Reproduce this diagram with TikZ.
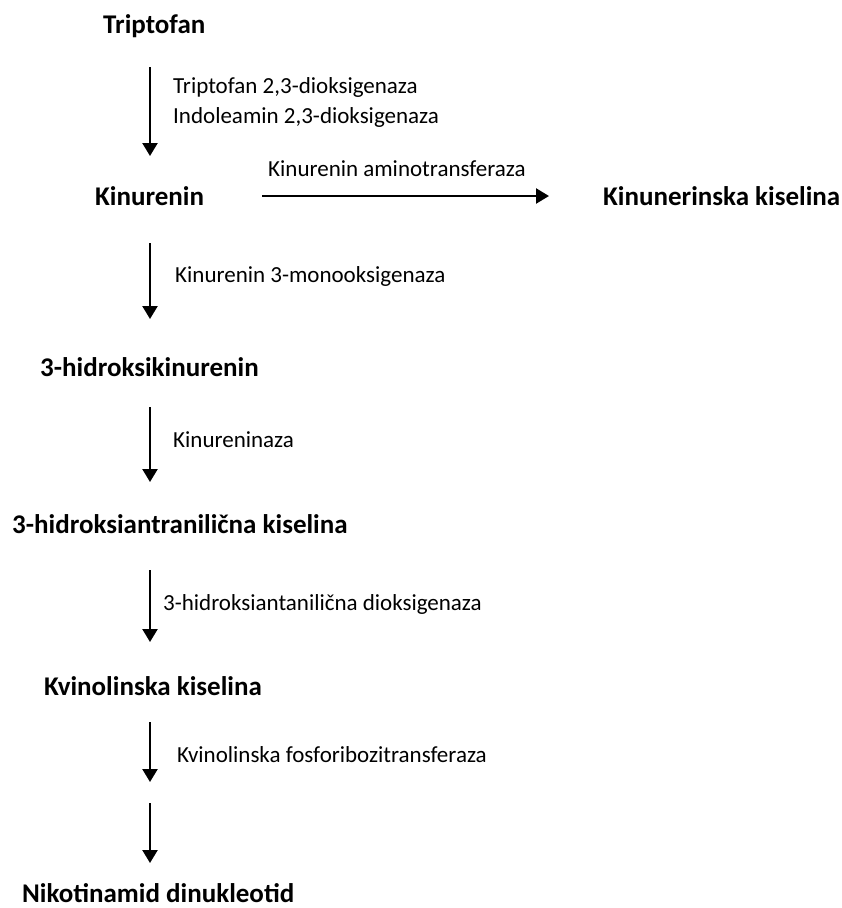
\documentclass[tikz,border=0pt]{standalone}
\usepackage{fontspec}
\setmainfont{Carlito}
\usetikzlibrary{arrows.meta}
\begin{document}
\begin{tikzpicture}[x=1pt,y=-1pt,
  met/.style={anchor=base west,inner sep=0pt,font=\fontsize{27}{32}\selectfont\bfseries},
  enz/.style={anchor=base west,inner sep=0pt,font=\fontsize{23}{28}\selectfont},
  rx/.style={line width=2.4pt,-{Triangle[width=15pt,length=13pt]}}]
\useasboundingbox (0,0) rectangle (842,908);
\node[met] (trp) at (103,33) {Triptofan};
\node[met] (kyn) at (95,205) {Kinurenin};
\node[met] (kyna) at (603,205) {Kinunerinska kiselina};
\node[met] (hk) at (40,376) {3-hidroksikinurenin};
\node[met] (haa) at (12,533) {3-hidroksiantranilična kiselina};
\node[met] (qa) at (44,695) {Kvinolinska kiselina};
\node[met] (nad) at (22,902) {Nikotinamid dinukleotid};
\node[enz] (e1) at (173,93) {Triptofan 2,3-dioksigenaza};
\node[enz] (e1b) at (173,123) {Indoleamin 2,3-dioksigenaza};
\node[enz] (e2) at (268,176) {Kinurenin aminotransferaza};
\node[enz] (e3) at (175,282) {Kinurenin 3-monooksigenaza};
\node[enz] (e4) at (173,447) {Kinureninaza};
\node[enz] (e5) at (163,610) {3-hidroksiantanilična dioksigenaza};
\node[enz] (e6) at (177,762) {Kvinolinska fosforibozitransferaza};
\coordinate (a1s) at (150,67);  \coordinate (a1e) at (150,156);
\coordinate (a2s) at (262,196); \coordinate (a2e) at (549,196);
\coordinate (a3s) at (150,243); \coordinate (a3e) at (150,319);
\coordinate (a4s) at (150,407); \coordinate (a4e) at (150,482);
\coordinate (a5s) at (150,570); \coordinate (a5e) at (150,642);
\coordinate (a6s) at (150,722); \coordinate (a6e) at (150,782);
\coordinate (a7s) at (150,803); \coordinate (a7e) at (150,863);
\draw[rx] (a1s) -- (a1e);
\draw[rx] (a2s) -- (a2e);
\draw[rx] (a3s) -- (a3e);
\draw[rx] (a4s) -- (a4e);
\draw[rx] (a5s) -- (a5e);
\draw[rx] (a6s) -- (a6e);
\draw[rx] (a7s) -- (a7e);
\end{tikzpicture}
\end{document}
